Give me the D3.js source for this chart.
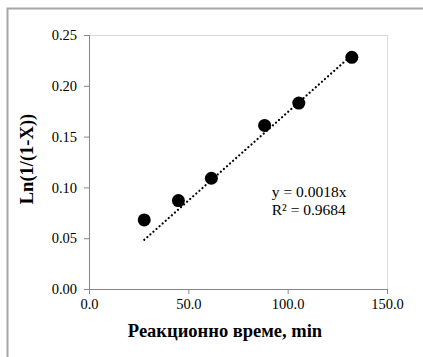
<!DOCTYPE html>
<html>
<head>
<meta charset="utf-8">
<script src="https://cdn.jsdelivr.net/npm/d3@7"></script>
<style>
  body { margin: 0; background: #fff; }
  svg text { font-family: "Liberation Serif", "DejaVu Serif", serif !important; }
</style>
</head>
<body>
<div id="chart"></div>
<script>
// data
const times = [27.8, 45.0, 61.6, 88.4, 105.6, 132.3];
const lnValues = [0.068, 0.087, 0.109, 0.161, 0.183, 0.228];
const slope = 0.00174; // shown rounded as 0.0018
const xTicks = [0, 50, 100, 150];
const yTicks = [0, 0.05, 0.10, 0.15, 0.20, 0.25];

const W = 423, H = 357;
const margin = { top: 35, right: 36, bottom: 68, left: 89 };
const width = W - margin.left - margin.right;
const height = H - margin.top - margin.bottom;

const root = d3.select("#chart").append("svg")
    .attr("width", W)
    .attr("height", H);

// outer chart border (only left/top visible)
root.append("path")
    .attr("d", `M7.5,${H} V8.5 H${W}`)
    .attr("fill", "none")
    .attr("stroke", "#a6a6a6")
    .attr("stroke-width", 2);

const svg = root.append("g")
    .attr("transform", `translate(${margin.left},${margin.top})`);

const x = d3.scaleLinear().domain([0, 150]).range([0, width]);
const y = d3.scaleLinear().domain([0, 0.25]).range([height, 0]);

// plot area border (top and right)
svg.append("path")
    .attr("d", `M0,0.5 H${width + 0.5} V${height}`)
    .attr("fill", "none")
    .attr("stroke", "#d9d9d9")
    .attr("stroke-width", 1);

// axes
svg.append("g")
    .attr("transform", `translate(0,${height})`)
    .call(d3.axisBottom(x).tickValues(xTicks).tickFormat(d3.format(".1f")).tickSize(5).tickPadding(5))
    .call(g => g.selectAll("path, line").attr("stroke", "#868686"))
    .call(g => g.selectAll("text").style("font-size", "14.5px").attr("fill", "#000"));

svg.append("g")
    .call(d3.axisLeft(y).tickValues(yTicks).tickFormat(d3.format(".2f")).tickSize(5).tickPadding(7))
    .call(g => g.selectAll("path, line").attr("stroke", "#868686"))
    .call(g => g.selectAll("text").style("font-size", "14.5px").attr("fill", "#000"));

// trendline through origin
const xMin = d3.min(times), xMax = d3.max(times);
svg.append("line")
    .attr("x1", x(xMin)).attr("y1", y(slope * xMin))
    .attr("x2", x(xMax)).attr("y2", y(slope * xMax))
    .attr("stroke", "#000")
    .attr("stroke-width", 2.2)
    .attr("stroke-linecap", "round")
    .attr("stroke-dasharray", "0.1,4");

// points
svg.selectAll("circle")
    .data(times)
    .join("circle")
    .attr("cx", d => x(d))
    .attr("cy", (d, i) => y(lnValues[i]))
    .attr("r", 6.5)
    .attr("fill", "#000");

// equation label
const eq = svg.append("text")
    .attr("y", y(0.091))
    .style("font-size", "15.5px")
    .attr("fill", "#000");
eq.append("tspan").attr("x", x(92)).text("y = 0.0018x");
eq.append("tspan").attr("x", x(92)).attr("dy", 18).text("R² = 0.9684");

// axis titles
svg.append("text")
    .attr("x", width / 2 - 13)
    .attr("y", height + 48)
    .attr("text-anchor", "middle")
    .style("font-size", "18.5px")
    .attr("font-weight", "bold")
    .text("Реакционно време, min");

svg.append("text")
    .attr("transform", `translate(-56,${height / 2 - 3}) rotate(-90)`)
    .attr("text-anchor", "middle")
    .style("font-size", "18.5px")
    .attr("font-weight", "bold")
    .text("Ln(1/(1-X))");
</script>
</body>
</html>
